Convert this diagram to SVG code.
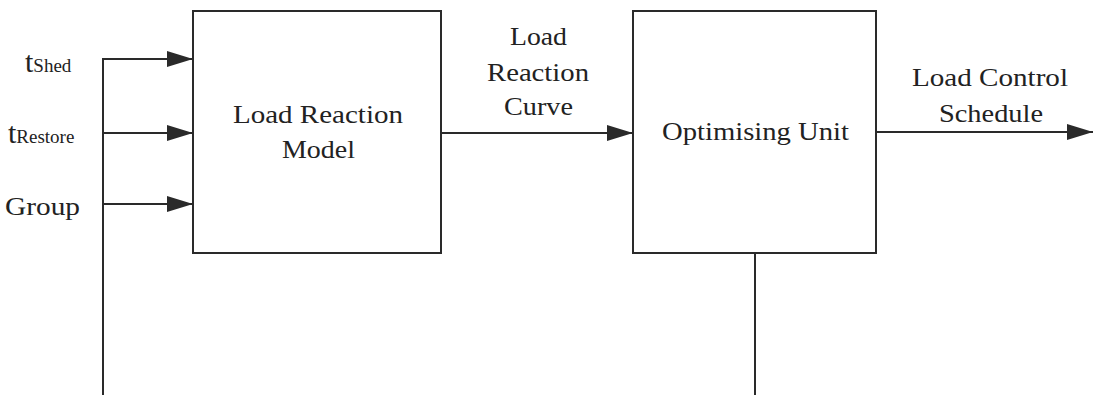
<svg xmlns="http://www.w3.org/2000/svg" width="1095" height="395" viewBox="0 0 1095 395">
<style>
.box{fill:#fff;stroke:#2a2a2a;stroke-width:2}
.ln{fill:none;stroke:#2a2a2a;stroke-width:2}
.t{fill:#222;font-size:25px}
.big{font-size:30px}
.sub{font-size:19px}
</style>
<defs>
<marker id="ah" markerWidth="26" markerHeight="16" refX="26" refY="8" orient="auto" markerUnits="userSpaceOnUse">
<path d="M0,0 L26,8 L0,16 Z" fill="#2a2a2a"/>
</marker>
</defs>
<rect width="1095" height="395" fill="#fff"/>
<g id="connectors">
<path class="ln" d="M103,395 V59 H193" marker-end="url(#ah)"/>
<path class="ln" d="M103,133 H193" marker-end="url(#ah)"/>
<path class="ln" d="M103,204 H193" marker-end="url(#ah)"/>
<path class="ln" d="M441,133 H633" marker-end="url(#ah)"/>
<path class="ln" d="M876,132 H1093" marker-end="url(#ah)"/>
<path class="ln" d="M755,253 V395"/>
</g>
<g font-family="Liberation Serif, Times New Roman, DejaVu Serif, serif">
<g id="load-reaction-model">
<rect class="box" x="193" y="11" width="248" height="242"/>
<text class="t" x="233" y="123" textLength="170" lengthAdjust="spacingAndGlyphs">Load Reaction</text>
<text class="t" x="282" y="158" textLength="73" lengthAdjust="spacingAndGlyphs">Model</text>
</g>
<g id="optimising-unit">
<rect class="box" x="633" y="11" width="243" height="242"/>
<text class="t" x="662" y="140" textLength="187" lengthAdjust="spacingAndGlyphs">Optimising Unit</text>
</g>
<g id="labels">
<text class="t" x="25" y="72"><tspan class="big">t</tspan><tspan class="sub">Shed</tspan></text>
<text class="t" x="8" y="143"><tspan class="big">t</tspan><tspan class="sub">Restore</tspan></text>
<text class="t" x="5" y="215" textLength="75" lengthAdjust="spacingAndGlyphs">Group</text>
<text class="t" x="510" y="45" textLength="57" lengthAdjust="spacingAndGlyphs">Load</text>
<text class="t" x="487" y="81" textLength="102" lengthAdjust="spacingAndGlyphs">Reaction</text>
<text class="t" x="504" y="115" textLength="69" lengthAdjust="spacingAndGlyphs">Curve</text>
<text class="t" x="912" y="86" textLength="156" lengthAdjust="spacingAndGlyphs">Load Control</text>
<text class="t" x="939" y="122" textLength="104" lengthAdjust="spacingAndGlyphs">Schedule</text>
</g>
</g>
</svg>
